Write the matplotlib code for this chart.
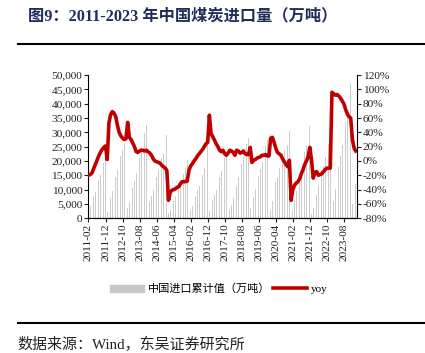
import matplotlib.pyplot as plt
import matplotlib.lines as mlines
import matplotlib.patches as mpatches
from matplotlib.ticker import FuncFormatter

plt.rcParams['font.family'] = ['Liberation Serif', 'Noto Sans CJK SC']

# cumulative imports per year (万吨), 2011 starts at Feb, 2024 ends at Mar
cum_2011 = [2800, 4400, 6000, 7700, 9300, 11300, 13300, 15100, 17000, 19300, 22200]
cum_2012 = [2300, 4500, 7100, 9600, 12200, 14300, 16800, 19400, 21600, 24000, 26400, 28900]
cum_2013 = [3600, 5500, 7800, 10400, 12900, 15700, 18500, 21200, 23900, 26700, 29700, 32700]
cum_2014 = [3000, 5600, 7700, 9700, 11900, 14400, 16800, 18900, 21000, 22800, 25300, 29100]
cum_2015 = [1700, 2900, 4400, 6000, 7600, 9300, 11400, 12900, 14400, 15600, 17500, 20400]
cum_2016 = [1500, 2800, 4400, 6200, 7900, 9700, 11300, 13000, 15200, 17700, 20400, 25500]
cum_2017 = [2500, 3800, 6200, 8100, 9900, 12000, 14300, 16600, 19000, 21100, 22500, 27100]
cum_2018 = [2900, 4600, 7100, 9200, 11200, 14300, 16600, 18800, 21500, 23200, 25900, 28100]
cum_2019 = [3400, 4900, 7500, 10100, 12100, 14900, 17300, 19800, 22200, 25200, 27400, 30000]
cum_2020 = [2800, 6000, 9600, 12700, 14500, 17400, 20000, 22400, 23900, 24300, 25600, 30400]
cum_2021 = [1500, 2800, 6800, 9500, 11600, 14000, 16700, 20000, 23200, 25100, 28600, 32300]
cum_2022 = [1600, 3400, 5800, 8200, 11200, 13600, 16000, 18400, 21300, 23100, 26000, 29300]
cum_2023 = [3100, 6100, 10200, 14100, 18000, 21800, 25500, 29800, 33700, 37600, 42300, 47400]
cum_2024 = [5000, 7500, 11900]

# yoy of cumulative value (%)
yoy = [-20, -19, -17, -11, -5, 1, 7, 12, 16, 19, 21,
       2, 53, 65, 69, 67, 62, 50, 40, 35, 32, 30, 31,
       54, 33, 30, 25, 20, 13, 12, 14, 15, 15, 14, 15,
       13, 11, 8, 3, 0, -1, -2, -3, -6, -8, -10, -13,
       -55, -44, -41, -40, -39, -37, -36, -32, -29, -29, -29, -28,
       -13, -7, -4, 0, 3, 7, 10, 13, 16, 20, 24, 26,
       64, 38, 34, 29, 24, 20, 15, 13, 15, 10, 8, 11,
       15, 14, 12, 8, 15, 14, 11, 12, 14, 10, 9, 9,
       19, -2, 1, 2, 4, 5, 6, 8, 8, 9, 7, 7,
       32, 33, 26, 18, 12, 10, 8, 3, -1, -5, -8, 1,
       -55, -40, -34, -31, -29, -25, -18, -12, -5, 0, 6, 19,
       1, -24, -16, -15, -20, -19, -18, -15, -12, -10, -10, -10,
       96, 94, 92, 93, 91, 88, 84, 80, 72, 66, 62, 60,
       30, 18, 14]

cum = (cum_2011 + cum_2012 + cum_2013 + cum_2014 + cum_2015 + cum_2016 + cum_2017
       + cum_2018 + cum_2019 + cum_2020 + cum_2021 + cum_2022 + cum_2023 + cum_2024)

months = []
y, m = 2011, 2
for _ in range(len(cum)):
    months.append('%d-%02d' % (y, m))
    m += 1
    if m > 12:
        y, m = y + 1, 1

x = list(range(len(cum)))

fig = plt.figure(figsize=(4.25, 3.53), dpi=100)
ax = fig.add_axes([0.207, 0.382, 0.633, 0.405])
ax2 = ax.twinx()

ax.bar(x, cum, width=0.42, color='#cccccc', zorder=1)
ax2.plot(x, [v / 100 for v in yoy], color='#c00000', lw=2.6, solid_joinstyle='round')

ax.set_xlim(-0.3, len(cum) - 0.3)
ax.set_ylim(0, 50000)
ax.set_yticks(range(0, 50001, 5000))
ax.yaxis.set_major_formatter(FuncFormatter(lambda v, p: '{:,.0f}'.format(v)))
ax2.set_ylim(-0.8, 1.2)
ax2.set_yticks([i / 10 for i in range(-8, 13, 2)])
ax2.yaxis.set_major_formatter(FuncFormatter(lambda v, p: '%d%%' % round(v * 100)))

ax.set_xticks(x[::10])
ax.set_xticklabels(months[::10], rotation=90)

for a in (ax, ax2):
    a.spines['top'].set_visible(False)
    a.tick_params(labelsize=8.2, length=3, width=0.8, pad=1, colors='#222222')
ax.spines['right'].set_visible(False)
ax2.spines['left'].set_visible(False)
ax.spines['bottom'].set_linewidth(0.8)
ax.spines['left'].set_linewidth(0.8)
ax2.spines['right'].set_linewidth(0.8)

# legend
handles = [mpatches.Patch(color='#c8c8c8'), mlines.Line2D([], [], color='#c00000', lw=2.6)]
fig.legend(handles, ['中国进口累计值（万吨）', 'yoy'], loc='center', bbox_to_anchor=(0.515, 0.182),
           ncol=2, frameon=False, fontsize=8, handlelength=3.0, handletextpad=0.35,
           columnspacing=0.3, handleheight=0.6)

# title, rules and source
fig.text(0.066, 0.955, '图9：2011-2023 年中国煤炭进口量（万吨）', fontsize=11.7, fontweight='bold',
         color='#1f2d5a', va='center', ha='left')
fig.add_artist(mlines.Line2D([0.042, 1.0], [0.875, 0.875], color='black', lw=1.5))
fig.add_artist(mlines.Line2D([0.042, 1.0], [0.085, 0.085], color='black', lw=1.5))
fig.text(0.042, 0.025, '数据来源：Wind，东吴证券研究所', fontsize=10.8, color='#222222',
         va='center', ha='left')

fig.savefig('out.png', dpi=100)
